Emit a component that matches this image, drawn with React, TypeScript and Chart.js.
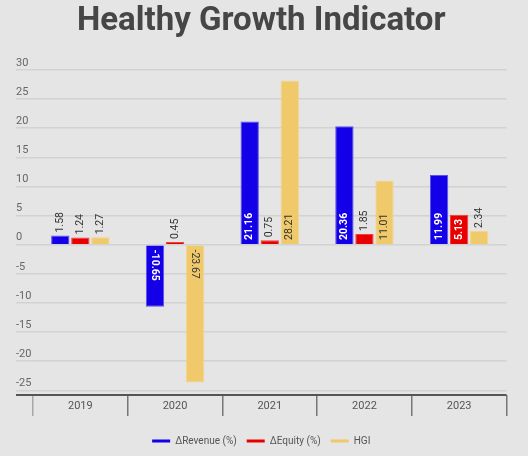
import { useEffect, useRef } from "react";
import { Chart, registerables } from "chart.js";

Chart.register(...registerables);

const YEARS = ["2019", "2020", "2021", "2022", "2023"];
const REVENUE = [1.58, -10.65, 21.16, 20.36, 11.99];
const EQUITY = [1.24, 0.45, 0.75, 1.85, 5.13];
const HGI = [1.27, -23.67, 28.21, 11.01, 2.34];
const SERIES_NAMES = ["ΔRevenue (%)", "ΔEquity (%)", "HGI"];
const Y_TICKS = [-25, -20, -15, -10, -5, 0, 5, 10, 15, 20, 25, 30];
const Y_MIN = -25.8;
const Y_MAX = 30;

const FONT = "Roboto";

// value labels drawn along each bar, rotated like the original
const barLabels = {
  id: "barLabels",
  afterDatasetsDraw(chart: any) {
    const ctx = chart.ctx;
    chart.data.datasets.forEach((ds: any, di: number) => {
      const meta = chart.getDatasetMeta(di);
      meta.data.forEach((bar: any, i: number) => {
        const v = ds.data[i] as number;
        const { x, y, base } = bar.getProps(["x", "y", "base"], true);
        const text = v.toFixed(2);
        const light = ds.labelColor === "#ffffff";
        ctx.save();
        ctx.font = `${light ? "bold " : ""}10.5px ${FONT}`;
        const tw = ctx.measureText(text).width;
        const len = Math.abs(base - y);
        const inside = tw + 8 <= len;
        ctx.textAlign = "left";
        ctx.textBaseline = "middle";
        if (inside) {
          ctx.fillStyle = ds.labelColor;
          if (v >= 0) {
            ctx.translate(x, base - 4);
            ctx.rotate(-Math.PI / 2);
          } else {
            ctx.translate(x, base + 4);
            ctx.rotate(Math.PI / 2);
          }
        } else {
          ctx.font = `10.5px ${FONT}`;
          ctx.fillStyle = "#333333";
          if (v >= 0) {
            ctx.translate(x, y - 3);
            ctx.rotate(-Math.PI / 2);
          } else {
            ctx.translate(x, y + 3);
            ctx.rotate(Math.PI / 2);
          }
        }
        ctx.fillText(text, 0, 0);
        ctx.restore();
      });
    });
  },
};

export default function App() {
  const canvasRef = useRef<HTMLCanvasElement>(null);

  useEffect(() => {
    document.body.style.margin = "0";
    document.body.style.background = "#e5e5e5";
    if (!canvasRef.current) return;

    const chart = new Chart(canvasRef.current, {
      type: "bar",
      data: {
        labels: YEARS,
        datasets: [
          {
            label: SERIES_NAMES[0],
            data: REVENUE,
            backgroundColor: "#1400e8",
            borderColor: "#5c50ee",
            borderWidth: 1,
            labelColor: "#ffffff",
          },
          {
            label: SERIES_NAMES[1],
            data: EQUITY,
            backgroundColor: "#e80000",
            borderColor: "#ee4040",
            borderWidth: 1,
            labelColor: "#ffffff",
          },
          {
            label: SERIES_NAMES[2],
            data: HGI,
            backgroundColor: "#f0ca6a",
            borderColor: "#f3d58c",
            borderWidth: 1,
            labelColor: "#333333",
          },
        ] as any,
      },
      options: {
        responsive: false,
        animation: false,
        categoryPercentage: 0.635,
        barPercentage: 0.915,
        layout: { padding: { left: 16, right: 21.5, top: 0, bottom: 0 } },
        plugins: {
          title: {
            display: true,
            text: "Healthy Growth Indicator",
            color: "#464646",
            font: { family: FONT, size: 33, weight: "bold" },
            padding: { top: 2, bottom: 28.4 },
          },
          legend: {
            position: "bottom",
            labels: {
              color: "#555555",
              font: { family: FONT, size: 10 },
              boxWidth: 18,
              boxHeight: 3,
              padding: 10,
              generateLabels: (c: any) =>
                Chart.defaults.plugins.legend.labels
                  .generateLabels(c)
                  .map((l: any) => ({ ...l, lineWidth: 0 })),
            },
          },
          tooltip: { enabled: false },
        },
        scales: {
          x: {
            grid: {
              offset: true,
              drawOnChartArea: false,
              drawTicks: true,
              tickLength: 21,
              lineWidth: 1.5,
              color: (c: any) =>
                c.index === 0 || c.index === YEARS.length ? "#a8a8a8" : "#777777",
            },
            border: { display: false },
            ticks: {
              color: "#555555",
              font: { family: FONT, size: 11 },
              padding: -16,
            },
            afterFit: (scale: any) => {
              scale.height = 31;
            },
          },
          y: {
            min: Y_MIN,
            max: Y_MAX,
            afterBuildTicks: (scale: any) => {
              scale.ticks = [Y_MIN, ...Y_TICKS].map((v) => ({ value: v }));
            },
            afterFit: (scale: any) => {
              scale.width = 17;
            },
            grid: {
              drawTicks: true,
              tickLength: 17,
              color: (c: any) => (c.tick && c.tick.value === Y_MIN ? "#555555" : "#d2d2d2"),
              lineWidth: (c: any) => (c.tick && c.tick.value === Y_MIN ? 2 : 1.5),
            },
            border: { display: false },
            ticks: {
              color: "#666666",
              font: { family: FONT, size: 11 },
              crossAlign: "far",
              labelOffset: -7,
              padding: 0,
              callback: (v: any) => (v === Y_MIN ? "" : String(v)),
            },
          },
        },
      },
      plugins: [barLabels],
    });

    return () => {
      chart.destroy();
    };
  }, []);

  return (
    <div style={{ width: 528, height: 456 }}>
      <canvas ref={canvasRef} width={528} height={456} style={{ display: "block" }} />
    </div>
  );
}
